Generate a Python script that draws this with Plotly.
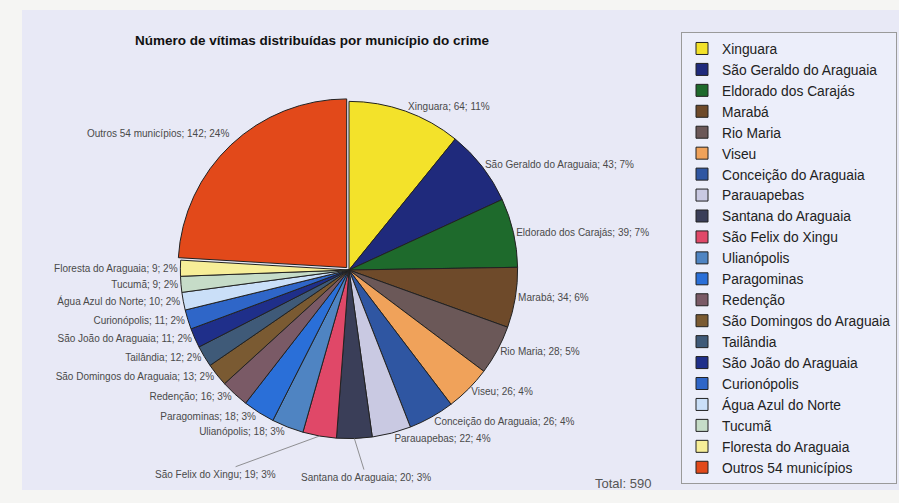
import math
import plotly.graph_objects as go

municipios = [
    "Xinguara", "São Geraldo do Araguaia", "Eldorado dos Carajás", "Marabá",
    "Rio Maria", "Viseu", "Conceição do Araguaia", "Parauapebas",
    "Santana do Araguaia", "São Felix do Xingu", "Ulianópolis", "Paragominas",
    "Redenção", "São Domingos do Araguaia", "Tailândia", "São João do Araguaia",
    "Curionópolis", "Água Azul do Norte", "Tucumã", "Floresta do Araguaia",
    "Outros 54 municípios",
]
vitimas = [64, 43, 39, 34, 28, 26, 26, 22, 20, 19, 18, 18, 16, 13, 12, 11, 11, 10, 9, 9, 142]
cores = [
    "#f3e22a", "#1f2a7c", "#1e6a2c", "#6e4a2a", "#6b5858", "#f0a25a", "#2f56a2",
    "#c9c9e2", "#3a3e58", "#e04868", "#4f84c2", "#2a6fd8", "#7a5a66", "#7a5a32",
    "#3f5a78", "#1f2f8a", "#2f66c8", "#cadff8", "#c6dcc8", "#f7ee98", "#e2491a",
]
puxar = [0] * 20 + [0.02]
titulo = "Número de vítimas distribuídas por município do crime"
total_txt = "Total: 590"

W, H = 899, 503
CX, CY, HALF = 349, 270, 172          # pie box (pixels)
R = HALF / (1 + max(puxar))           # actual pie radius used by plotly

total = sum(vitimas)
rotulos = [f"{m}; {v}; {round(100 * v / total)}%" for m, v in zip(municipios, vitimas)]

# slices whose labels are placed by hand (with leader lines), as in the original
especiais = {
    "São Felix do Xingu": dict(ax=-104, ay=38, line=True),
    "Santana do Araguaia": dict(ax=12, ay=39, line=True),
    "Outros 54 municípios": dict(ax=-73, ay=-11, line=False),
}
texto_pie = ["" if m in especiais else t for m, t in zip(municipios, rotulos)]

anots = []
acum = 0
for m, v, t, p in zip(municipios, vitimas, rotulos, puxar):
    meio = (acum + v / 2) / total * 2 * math.pi
    acum += v
    if m not in especiais:
        continue
    e = especiais[m]
    rr = R * (1 + p)
    px = CX + rr * math.sin(meio)
    py = CY - rr * math.cos(meio)
    anots.append(dict(
        text=t, xref="paper", yref="paper",
        x=px / W, y=1 - py / H,
        ax=e["ax"], ay=e["ay"],
        showarrow=True, arrowhead=0, arrowwidth=0.8,
        arrowcolor="#777777" if e["line"] else "rgba(0,0,0,0)",
        standoff=0, startstandoff=1,
        font=dict(family="Liberation Sans, Arial, sans-serif", size=10, color="#4a4a4a"),
    ))

anots.append(dict(
    text=total_txt, xref="paper", yref="paper",
    x=623 / W, y=1 - 483 / H, xanchor="center", yanchor="middle",
    showarrow=False,
    font=dict(family="Liberation Sans, Arial, sans-serif", size=13, color="#555555"),
))

fig = go.Figure(go.Pie(
    labels=municipios,
    values=vitimas,
    text=texto_pie,
    texttemplate="%{text}",
    sort=False,
    direction="clockwise",
    rotation=0,
    pull=puxar,
    marker=dict(colors=cores, line=dict(color="#222222", width=1)),
    textposition="outside",
    textfont=dict(family="Liberation Sans, Arial, sans-serif", size=10, color="#4a4a4a"),
    domain=dict(x=[(CX - HALF) / W, (CX + HALF) / W], y=[1 - (CY + HALF) / H, 1 - (CY - HALF) / H]),
    hoverinfo="label+value+percent",
))

fig.update_layout(
    width=W, height=H, autosize=False,
    margin=dict(l=0, r=0, t=0, b=0, autoexpand=False),
    paper_bgcolor="#f5f5f3",
    plot_bgcolor="#e8e9f6",
    title=dict(
        text="<b>" + titulo + "</b>",
        x=312 / W, xanchor="center", y=1 - 40 / H, yanchor="middle",
        font=dict(family="Liberation Sans, Arial, sans-serif", size=13.5, color="#111111"),
    ),
    legend=dict(
        x=681 / W, xanchor="left", y=1 - 32 / H, yanchor="top",
        bgcolor="#eceefa", bordercolor="#9a9a9a", borderwidth=1,
        font=dict(family="Liberation Sans, Arial, sans-serif", size=13.8, color="#222222"),
        traceorder="normal",
    ),
    shapes=[dict(
        type="rect", xref="paper", yref="paper", layer="below",
        x0=22 / W, x1=1.0, y0=1 - 490 / H, y1=1 - 10 / H,
        fillcolor="#e8e9f6", line=dict(width=0),
    )],
    annotations=anots,
)

fig.write_html("out.html", config={"displayModeBar": False},
               post_script="document.body.style.margin='0';")
